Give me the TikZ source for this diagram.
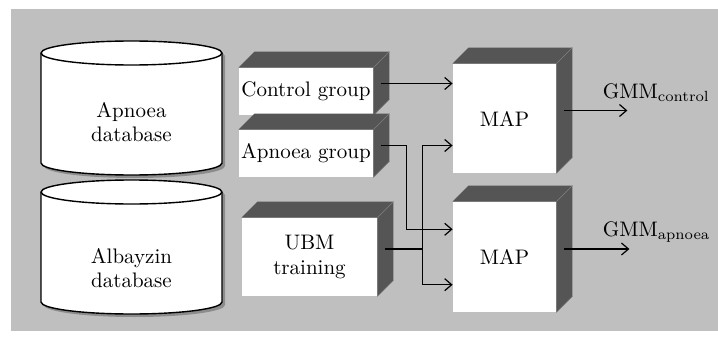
\documentclass[tikz,border=0pt]{standalone}
\usetikzlibrary{arrows.meta,calc,shadows}
\definecolor{bgcol}{RGB}{191,191,191}
\definecolor{facecol}{RGB}{85,85,85}
\begin{document}
\begin{tikzpicture}[x=0.5pt, y=-0.5pt,
  box/.style={fill=white, inner sep=0pt, align=center, font=\fontsize{10.5}{12.5}\selectfont},
  face/.style={fill=facecol},
  ar/.style={line width=0.6pt, -{Straight Barb[length=3.5pt,width=6pt]}},
  db/.style={fill=white, draw=black, line width=0.7pt, drop shadow={shadow xshift=1.5pt, shadow yshift=-1.5pt, fill=black!45, opacity=1}},
  txt/.style={align=center, font=\fontsize{10.5}{12}\selectfont}]
\useasboundingbox (0,0) rectangle (718,337);
\fill[bgcol] (11,9) rectangle (718,331);

% databases
\foreach \y in {192,53} {
  \path[db] (41,\y) -- (41,\y+110) arc[start angle=180, end angle=360, x radius=45.25pt, y radius=6pt]
    -- (222,\y) arc[start angle=0, end angle=180, x radius=45.25pt, y radius=6pt] -- cycle;
  \draw[line width=0.7pt] (41,\y) arc[start angle=180, end angle=360, x radius=45.25pt, y radius=6pt];
}
\node[txt] (apdb) at (131.5,122) {Apnoea\\database};
\node[txt] (aldb) at (131.5,268) {Albayzin\\database};

% blocks
\node[box, minimum width=67pt, minimum height=23.5pt] (ctrl) at (306,91.5) {Control group};
\node[box, minimum width=67pt, minimum height=23.5pt] (apn) at (306,153.5) {Apnoea group};
\node[box, minimum width=67.5pt, minimum height=39pt] (ubm) at (309.5,257) {UBM\\training};
\node[box, minimum width=51.5pt, minimum height=54.5pt] (map1) at (504.5,118.5) {MAP};
\node[box, minimum width=51.5pt, minimum height=55pt] (map2) at (504.5,257) {MAP};
\foreach \n in {ctrl,apn,ubm,map1,map2} {
  \fill[face] (\n.north west) -- ([shift={(8pt,8pt)}]\n.north west) -- ([shift={(8pt,8pt)}]\n.north east)
    -- ([shift={(8pt,8pt)}]\n.south east) -- (\n.south east) -- (\n.north east) -- cycle;
  \draw[gray, line width=0.3pt] (\n.north east) -- ++(8pt,8pt) (\n.south east) -- ++(8pt,8pt);
  \coordinate (\n-o) at ([shift={(4pt,4pt)}]\n.east);
}

% connections
\coordinate (a2) at ($(map2.north west)!0.25!(map2.south west)$);
\coordinate (b2) at ($(map2.north west)!0.75!(map2.south west)$);
\coordinate (u) at ([xshift=18.5pt]ubm-o);
\draw[ar] (ctrl-o) -- (ctrl-o -| map1.west);
\draw[ar] (apn-o) -- ++(12.5pt,0) |- (a2);
\draw[line width=0.6pt] (ubm-o) -- (u);
\draw[ar] (u) |- (apn-o -| map1.west);
\draw[ar] (u) |- (b2);
\draw[ar] (map1-o) -- ++(31.5pt,0) coordinate (g1);
\draw[ar] (map2-o) -- ++(32.5pt,0) coordinate (g2);
\node[txt, anchor=base west, inner sep=0pt] (gc) at ([xshift=-12.5pt,yshift=6pt]g1) {GMM\textsubscript{control}};
\node[txt, anchor=base west, inner sep=0pt] (ga) at ([xshift=-13.5pt,yshift=6.5pt]g2) {GMM\textsubscript{apnoea}};
\end{tikzpicture}
\end{document}
